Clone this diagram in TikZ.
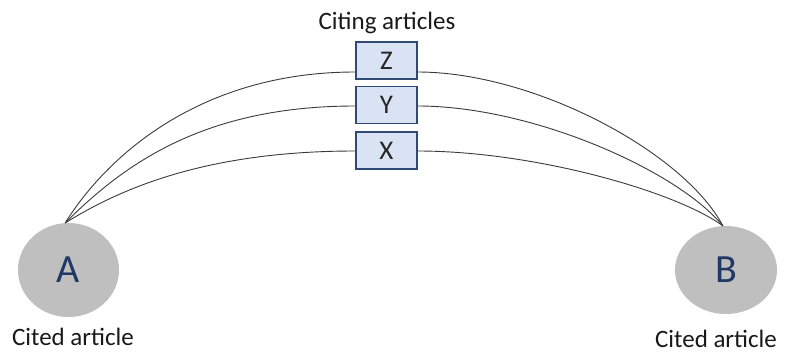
\documentclass[tikz,border=0pt]{standalone}
\usepackage{fontspec}
\setmainfont{Carlito}
\usetikzlibrary{shapes.geometric}
\definecolor{circfill}{HTML}{BFBFBF}
\definecolor{navy}{HTML}{1F3864}
\definecolor{boxfill}{HTML}{DAE3F3}
\definecolor{boxdraw}{HTML}{2F4A75}
\definecolor{linkcol}{HTML}{3A3A3A}
\begin{document}
\begin{tikzpicture}[x=1bp,y=-1bp,
  cited/.style={ellipse,fill=circfill,draw=none,inner sep=0pt,text=navy,font=\fontsize{40bp}{40bp}\selectfont},
  citing/.style={rectangle,fill=boxfill,draw=boxdraw,line width=1.5bp,minimum width=61bp,minimum height=37bp,inner sep=0pt,text=black!85,font=\fontsize{27bp}{27bp}\selectfont},
  label/.style={font=\fontsize{25bp}{25bp}\selectfont,text=black!90,inner sep=0pt},
  link/.style={draw=linkcol,line width=0.9bp}]
\useasboundingbox (0,0) rectangle (786,351);
\node[cited,minimum width=101bp,minimum height=94bp] (A) at (68.5,270) {A};
\node[cited,minimum width=102bp,minimum height=88bp] (B) at (726,270) {B};
\node[citing] (Z) at (386.5,60.5) {Z};
\node[citing] (Y) at (386.5,105) {Y};
\node[citing] (X) at (386.5,150.5) {X};
\node[label] (cit) at (387,23) {Citing articles};
\node[label] (la) at (73,337) {Cited article};
\node[label] (lb) at (716,339) {Cited article};
\coordinate (a) at (A.94);
\coordinate (b) at (B.94);
\draw[link] (a) .. controls +(45,-72) and +(-150,0) .. ([yshift=-11.5bp]Z.west);
\draw[link] ([yshift=-11.5bp]Z.east) .. controls +(115,0) and +(-40,-75) .. (b);
\draw[link] (a) .. controls +(60,-60) and +(-150,0) .. ([yshift=-1bp]Y.west);
\draw[link] ([yshift=-1bp]Y.east) .. controls +(115,0) and +(-45,-55) .. (b);
\draw[link] (a) .. controls +(55,-34) and +(-150,0) .. ([yshift=-0.5bp]X.west);
\draw[link] ([yshift=-0.5bp]X.east) .. controls +(115,0) and +(-48,-35) .. (b);
\end{tikzpicture}
\end{document}
